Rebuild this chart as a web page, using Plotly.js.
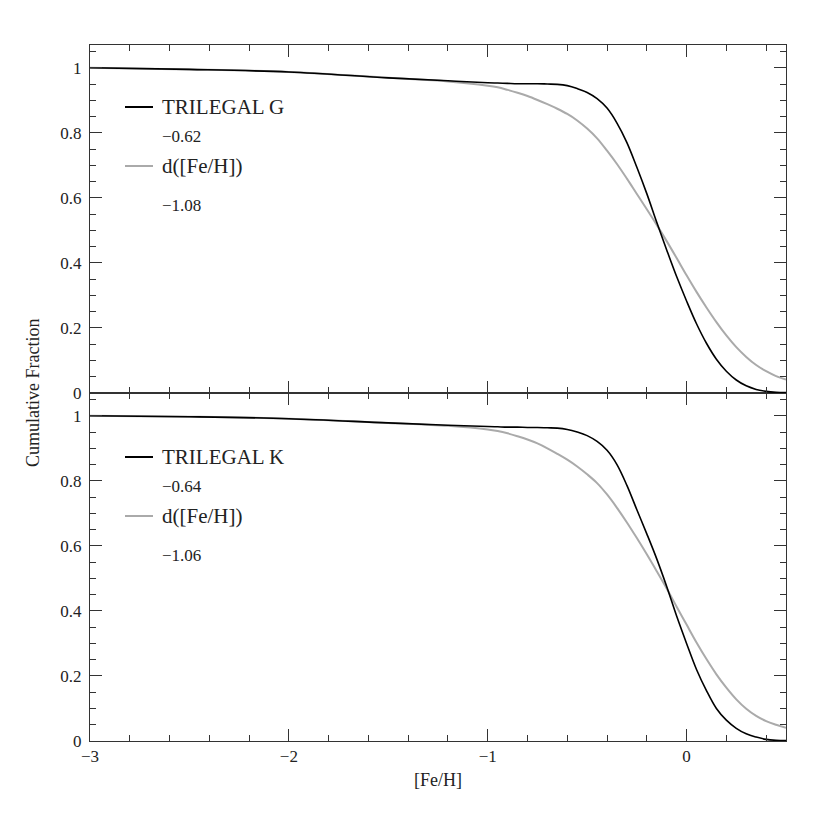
<!DOCTYPE html>
<html>
<head>
<meta charset="utf-8">
<script src="https://cdn.plot.ly/plotly-3.0.1.min.js"></script>
<style>
  body { margin: 0; background: #fff; }
  #chart { width: 830px; height: 830px; }
</style>
</head>
<body>
<div id="chart"></div>
<script>
// [Fe/H] grid the cumulative fractions were read at
const feh = [-3, -2.5, -2, -1.5, -1.2, -1.0, -0.95, -0.9, -0.85, -0.8, -0.75, -0.7, -0.65, -0.6,
  -0.55, -0.5, -0.45, -0.4, -0.35, -0.3, -0.25, -0.2, -0.15, -0.1, -0.05, 0.0,
  0.05, 0.1, 0.15, 0.2, 0.25, 0.3, 0.35, 0.4, 0.45, 0.5];

// top panel (G dwarfs)
const trilegalG = [1.000, 0.995, 0.987, 0.969, 0.960, 0.954, 0.953, 0.952, 0.951, 0.951, 0.951, 0.950, 0.949, 0.945,
  0.936, 0.924, 0.905, 0.876, 0.830, 0.770, 0.694, 0.613, 0.525, 0.440, 0.358, 0.283,
  0.213, 0.153, 0.104, 0.067, 0.040, 0.022, 0.011, 0.005, 0.002, 0.001];
const dFehG = [1.000, 0.995, 0.987, 0.969, 0.958, 0.945, 0.940, 0.932, 0.923, 0.913, 0.901, 0.888, 0.874, 0.858,
  0.838, 0.813, 0.783, 0.745, 0.704, 0.659, 0.612, 0.565, 0.517, 0.467, 0.415, 0.362,
  0.311, 0.263, 0.218, 0.177, 0.141, 0.111, 0.086, 0.067, 0.052, 0.041];

// bottom panel (K dwarfs)
const trilegalK = [1.000, 0.997, 0.991, 0.978, 0.971, 0.967, 0.966, 0.965, 0.965, 0.964, 0.964, 0.963, 0.962, 0.958,
  0.950, 0.939, 0.921, 0.894, 0.850, 0.786, 0.711, 0.637, 0.560, 0.475, 0.384, 0.300,
  0.220, 0.155, 0.100, 0.064, 0.039, 0.022, 0.012, 0.005, 0.002, 0.001];
const dFehK = [1.000, 0.997, 0.991, 0.978, 0.969, 0.958, 0.953, 0.946, 0.937, 0.927, 0.915, 0.900, 0.883, 0.865,
  0.844, 0.820, 0.793, 0.758, 0.717, 0.672, 0.624, 0.574, 0.522, 0.469, 0.413, 0.358,
  0.303, 0.252, 0.205, 0.164, 0.128, 0.099, 0.077, 0.061, 0.050, 0.041];

const labelsG = ['TRILEGAL G', '\u22120.62', 'd([Fe/H])', '\u22121.08'];
const labelsK = ['TRILEGAL K', '\u22120.64', 'd([Fe/H])', '\u22121.06'];

const FONT = 'Liberation Serif';
const AX = '#333';
const BLACK = '#000000';
const GREY = '#aaaaaa';

function curve(y, color, w, xa, ya) {
  return {
    x: feh, y: y, xaxis: xa, yaxis: ya,
    type: 'scatter', mode: 'lines',
    line: { color: color, width: w, shape: 'spline', smoothing: 1 },
    showlegend: false, hoverinfo: 'skip'
  };
}

const data = [
  curve(dFehG, GREY, 2, 'x2', 'y2'),
  curve(trilegalG, BLACK, 1.6, 'x2', 'y2'),
  curve(dFehK, GREY, 2, 'x', 'y'),
  curve(trilegalK, BLACK, 1.6, 'x', 'y')
];

function xax(extra) {
  return Object.assign({
    range: [-3, 0.5], tick0: 0, dtick: 1,
    ticks: 'inside', ticklen: 12, tickwidth: 1, tickcolor: AX,
    minor: { dtick: 0.2, ticks: 'inside', ticklen: 6, tickcolor: AX },
    showline: true, linecolor: AX, linewidth: 1, mirror: 'ticks',
    showgrid: false, zeroline: false,
    tickfont: { family: FONT, size: 17, color: '#222' }
  }, extra);
}

function yax(extra) {
  return Object.assign({
    range: [0, 1.07], tick0: 0, dtick: 0.2,
    ticks: 'inside', ticklen: 12, tickwidth: 1, tickcolor: AX,
    minor: { dtick: 0.05, ticks: 'inside', ticklen: 6, tickcolor: AX },
    showline: true, linecolor: AX, linewidth: 1, mirror: 'ticks',
    showgrid: false, zeroline: false,
    ticklabelstandoff: 4,
    tickfont: { family: FONT, size: 17, color: '#222' }
  }, extra);
}

// legend block: short line + label, number below, grey line + label, number below
function legendBlock(labels, yTop) {
  const px = v => (741 - v) / 696;
  const rows = [yTop, yTop + 29, yTop + 59, yTop + 98].map(px);
  const ann = [
    { text: labels[0], y: rows[0], size: 21 },
    { text: labels[1], y: rows[1], size: 17 },
    { text: labels[2], y: rows[2], size: 21 },
    { text: labels[3], y: rows[3], size: 17 }
  ].map(a => ({
    xref: 'paper', yref: 'paper', x: (160 - 90) / 696, y: a.y,
    xanchor: 'left', yanchor: 'middle', showarrow: false,
    text: a.text, font: { family: FONT, size: a.size, color: '#222' }
  }));
  const shp = [
    { y: rows[0], color: BLACK },
    { y: rows[2], color: GREY }
  ].map(s => ({
    type: 'line', xref: 'paper', yref: 'paper',
    x0: (125 - 90) / 696, x1: (153 - 90) / 696, y0: s.y, y1: s.y,
    line: { color: s.color, width: 2 }
  }));
  return { ann, shp };
}

const legTop = legendBlock(labelsG, 107);
const legBot = legendBlock(labelsK, 457);

const layout = {
  width: 830, height: 830,
  margin: { l: 90, r: 44, t: 45, b: 89 },
  paper_bgcolor: '#fff', plot_bgcolor: '#fff',
  showlegend: false,
  xaxis: xax({ domain: [0, 1], anchor: 'y' }),
  xaxis2: xax({ domain: [0, 1], anchor: 'y2', matches: 'x', showticklabels: false }),
  yaxis: yax({ domain: [0, 0.5], anchor: 'x' }),
  yaxis2: yax({ domain: [0.5, 1], anchor: 'x2' }),
  annotations: [
    {
      xref: 'paper', yref: 'paper', x: 0.5, y: (741 - 780) / 696,
      xanchor: 'center', yanchor: 'middle', showarrow: false,
      text: '[Fe/H]', font: { family: FONT, size: 18, color: '#222' }
    },
    {
      xref: 'paper', yref: 'paper', x: (33 - 90) / 696, y: 0.5,
      xanchor: 'center', yanchor: 'middle', showarrow: false, textangle: -90,
      text: 'Cumulative Fraction', font: { family: FONT, size: 18, color: '#222' }
    }
  ].concat(legTop.ann, legBot.ann),
  shapes: legTop.shp.concat(legBot.shp)
};

Plotly.newPlot('chart', data, layout, { displayModeBar: false, staticPlot: true });
</script>
</body>
</html>
